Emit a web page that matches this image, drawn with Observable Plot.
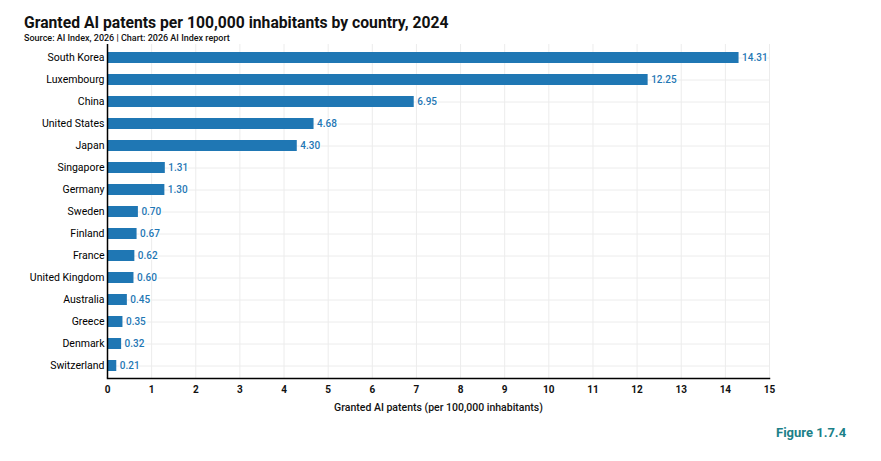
<!DOCTYPE html>
<html>
<head>
<meta charset="utf-8">
<script src="https://cdn.jsdelivr.net/npm/d3@7"></script>
<script src="https://cdn.jsdelivr.net/npm/@observablehq/plot@0.6"></script>
<style>
  body { margin: 0; background: #fff; font-family: Roboto, "Noto Sans", sans-serif; }
  #wrap { width: 881px; }
  #title { padding: 10px 0 0 24px; font-size: 15.7px; line-height: 20px; font-weight: 700; color: #111; height: 20px; position: relative; top: 3px; }
  #subtitle { padding-left: 24px; font-size: 9px; line-height: 10px; font-weight: 500; color: #111; height: 10px; position: relative; top: 3px; }
  #chart svg { display: block; }
  #fig { padding: 5px 0 0 776px; font-size: 13px; line-height: 16px; font-weight: 700; color: #1b8088; }
</style>
</head>
<body>
<div id="wrap">
  <div id="title">Granted AI patents per 100,000 inhabitants by country, 2024</div>
  <div id="subtitle">Source: AI Index, 2026 | Chart: 2026 AI Index report</div>
  <div id="chart"></div>
  <div id="fig">Figure 1.7.4</div>
</div>
<script>
const countries = ["South Korea","Luxembourg","China","United States","Japan","Singapore","Germany","Sweden","Finland","France","United Kingdom","Australia","Greece","Denmark","Switzerland"];
const values = [14.31,12.25,6.95,4.68,4.30,1.31,1.30,0.70,0.67,0.62,0.60,0.45,0.35,0.32,0.21];
const xTicks = [0,1,2,3,4,5,6,7,8,9,10,11,12,13,14,15];
const xLabel = "Granted AI patents (per 100,000 inhabitants)";

const data = countries.map((c, i) => ({country: c, value: values[i]}));
const blue = "#1f77b4";

const plot = Plot.plot({
  width: 881,
  height: 380,
  marginLeft: 107,
  marginRight: 112,
  marginTop: 4,
  marginBottom: 42,
  style: {fontFamily: "Roboto, 'Noto Sans', sans-serif", fontSize: "10px", color: "#111", background: "#fff"},
  x: {domain: [0, 15], label: xLabel, labelArrow: "none"},
  y: {domain: countries, paddingInner: 0.5, paddingOuter: 0.25},
  marks: [
    Plot.gridX(xTicks.slice(1), {stroke: "#ececec", strokeOpacity: 1, strokeWidth: 1}),
    Plot.gridY(countries, {stroke: "#ececec", strokeOpacity: 1, strokeWidth: 1}),
    Plot.barX(data, {x: "value", y: "country", fill: blue}),
    Plot.text(data, {x: "value", y: "country", text: d => d.value.toFixed(2), dx: 3, textAnchor: "start", fill: blue, fontSize: 10, fontWeight: 500, stroke: "white", strokeWidth: 2, paintOrder: "stroke"}),
    Plot.axisY({tickSize: 0, tickPadding: 3, label: null, fontSize: 10.5, fill: "#000"}),
    Plot.axisX(xTicks, {tickSize: 0, tickPadding: 7, fontWeight: 700, label: null, fontSize: 10}),
    Plot.axisX([], {tickSize: 0, label: xLabel, labelArrow: "none", labelAnchor: "center", labelOffset: 32, fontSize: 10.5, fontWeight: 500}),
    Plot.ruleX([0], {stroke: "#000", strokeWidth: 1.5}),
    Plot.frame({anchor: "bottom", stroke: "#000", strokeWidth: 1.5})
  ]
});
document.getElementById("chart").appendChild(plot);
</script>
</body>
</html>
